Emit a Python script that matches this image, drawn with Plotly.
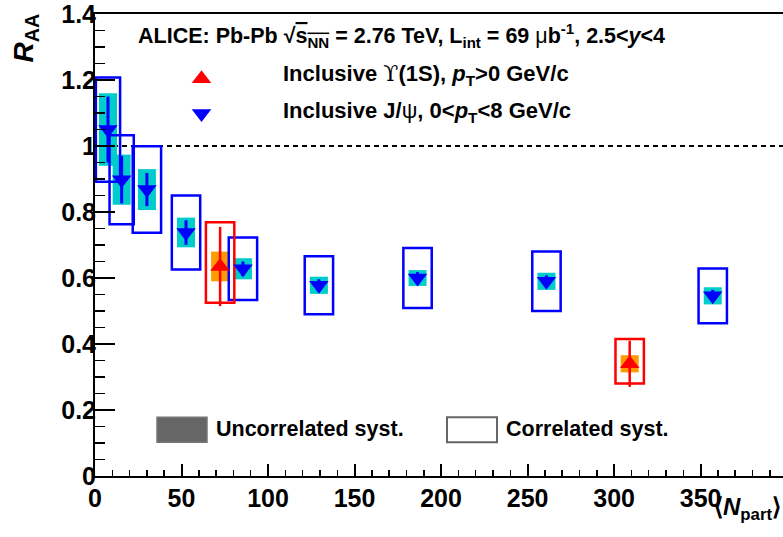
import plotly.graph_objects as go

# ---------------- data ----------------
jpsi_npart = [7.5, 15.4, 30.0, 52.6, 85.5, 129.4, 186.4, 260.9, 357.0]
jpsi_raa = [1.050, 0.898, 0.868, 0.738, 0.628, 0.578, 0.600, 0.590, 0.546]
jpsi_stat = [0.100, 0.072, 0.050, 0.037, 0.022, 0.018, 0.018, 0.018, 0.018]
jpsi_uncorr = [0.110, 0.076, 0.062, 0.045, 0.032, 0.026, 0.024, 0.026, 0.026]
jpsi_corr = [0.158, 0.135, 0.131, 0.112, 0.095, 0.088, 0.091, 0.090, 0.083]

ups_npart = [72.3, 309.0]
ups_raa = [0.635, 0.340]
ups_stat = [0.120, 0.070]
ups_uncorr = [0.045, 0.026]
ups_corr_up = [0.134, 0.075]
ups_corr_down = [0.110, 0.060]

x_ticks = [0, 50, 100, 150, 200, 250, 300, 350]
y_ticks = [0, 0.2, 0.4, 0.6, 0.8, 1.0, 1.2, 1.4]
REF_LINE = 1.0

# ---------------- style / layout constants ----------------
W, H = 783, 537
L, R, T, B = 95, 783, 12, 476
X_MAX = 397.6
Y_MAX = 1.4001
UNC_HALF = 5.2
jpsi_box_half = [7.0, 7.0, 8.2, 8.2, 8.2, 8.2, 8.2, 8.2, 8.2]
ups_box_half = [8.2, 8.2]
CYAN = "#00CCCC"
ORANGE = "#FF9A00"
BLUE = "#0000FF"
RED = "#FF0000"
FONT = "Liberation Sans, Arial, Helvetica, sans-serif"
MSIZE = 17


def pxx(xp):
    return (xp - L) / (R - L)


def pyy(yp):
    return (B - yp) / (B - T)


fig = go.Figure()
shapes = []

# uncorrelated (filled) boxes
for x, y, e in zip(jpsi_npart, jpsi_raa, jpsi_uncorr):
    shapes.append(dict(type="rect", xref="x", yref="y", x0=x - UNC_HALF, x1=x + UNC_HALF,
                       y0=y - e, y1=y + e, fillcolor=CYAN, line=dict(width=0), layer="below"))
for x, y, e in zip(ups_npart, ups_raa, ups_uncorr):
    shapes.append(dict(type="rect", xref="x", yref="y", x0=x - UNC_HALF, x1=x + UNC_HALF,
                       y0=y - e, y1=y + e, fillcolor=ORANGE, line=dict(width=0), layer="below"))

# reference line at 1
shapes.append(dict(type="line", xref="paper", yref="y", x0=0, x1=1, y0=REF_LINE, y1=REF_LINE,
                   line=dict(color="black", width=2, dash="5px,4px"), layer="below"))

# correlated (open) boxes
for x, y, e, hw in zip(jpsi_npart, jpsi_raa, jpsi_corr, jpsi_box_half):
    shapes.append(dict(type="rect", xref="x", yref="y", x0=x - hw, x1=x + hw,
                       y0=y - e, y1=y + e, line=dict(color=BLUE, width=2.5), layer="below"))
for x, y, eu, ed, hw in zip(ups_npart, ups_raa, ups_corr_up, ups_corr_down, ups_box_half):
    shapes.append(dict(type="rect", xref="x", yref="y", x0=x - hw, x1=x + hw,
                       y0=y - ed, y1=y + eu, line=dict(color=RED, width=2.5), layer="below"))

# bottom legend boxes
shapes.append(dict(type="rect", xref="paper", yref="paper", x0=pxx(157), x1=pxx(207),
                   y0=pyy(442), y1=pyy(417), fillcolor="#666666", line=dict(color="#777777", width=1.5)))
shapes.append(dict(type="rect", xref="paper", yref="paper", x0=pxx(447), x1=pxx(497),
                   y0=pyy(442), y1=pyy(417), fillcolor="white", line=dict(color="#666666", width=2)))

# data traces
fig.add_trace(go.Scatter(
    x=jpsi_npart, y=jpsi_raa, mode="markers",
    marker=dict(symbol="triangle-down", size=MSIZE, color=BLUE, line=dict(width=0)),
    error_y=dict(type="data", array=jpsi_stat, visible=True, color=BLUE, thickness=3, width=0),
    showlegend=False, hoverinfo="skip"))
fig.add_trace(go.Scatter(
    x=ups_npart, y=ups_raa, mode="markers",
    marker=dict(symbol="triangle-up", size=MSIZE, color=RED, line=dict(width=0)),
    error_y=dict(type="data", array=ups_stat, visible=True, color=RED, thickness=2.5, width=0),
    showlegend=False, hoverinfo="skip"))

# legend markers on a pixel-space overlay axis
fig.add_trace(go.Scatter(x=[201.5], y=[77], xaxis="x2", yaxis="y2", mode="markers",
                         marker=dict(symbol="triangle-up", size=MSIZE, color=RED), showlegend=False,
                         hoverinfo="skip"))
fig.add_trace(go.Scatter(x=[201.5], y=[112], xaxis="x2", yaxis="y2", mode="markers",
                         marker=dict(symbol="triangle-down", size=MSIZE, color=BLUE), showlegend=False,
                         hoverinfo="skip"))

tickfont = dict(family=FONT, size=25, color="black", weight="bold")
txtfont = dict(family=FONT, size=21.5, color="black", weight="bold")
legfont = dict(family=FONT, size=22, color="black", weight="bold")
UPS = "<span style='font-family:DejaVu Serif;font-weight:normal'>ϒ</span>"
PSI = "<span style='font-weight:normal'>ψ</span>"
MU = "<span style='font-weight:normal'>μ</span>"

annotations = [
    dict(x=pxx(136), y=pyy(34), xref="paper", yref="paper", xanchor="left", yanchor="middle",
         showarrow=False, font=txtfont,
         text="ALICE: Pb-Pb √<span style='text-decoration:overline'>s<sub>NN</sub></span> = 2.76 TeV, "
              "L<sub>int</sub> = 69 " + MU + "b<sup>-1</sup>, 2.5&lt;<i>y</i>&lt;4"),
    dict(x=pxx(281), y=pyy(73), xref="paper", yref="paper", xanchor="left", yanchor="middle",
         showarrow=False, font=legfont,
         text="Inclusive " + UPS + "(1S), <i>p</i><sub>T</sub>&gt;0 GeV/c"),
    dict(x=pxx(281), y=pyy(110), xref="paper", yref="paper", xanchor="left", yanchor="middle",
         showarrow=False, font=legfont,
         text="Inclusive J/" + PSI + ", 0&lt;<i>p</i><sub>T</sub>&lt;8 GeV/c"),
    dict(x=pxx(214), y=pyy(429), xref="paper", yref="paper", xanchor="left", yanchor="middle",
         showarrow=False, font=txtfont, text="Uncorrelated syst."),
    dict(x=pxx(504), y=pyy(429), xref="paper", yref="paper", xanchor="left", yanchor="middle",
         showarrow=False, font=txtfont, text="Correlated syst."),
    dict(x=pxx(26), y=pyy(10), xref="paper", yref="paper", xanchor="center", yanchor="top",
         textangle=-90, showarrow=False, font=dict(family=FONT, size=28, color="black", weight="bold"),
         text="<i>R</i><sub>AA</sub>"),
    dict(x=pxx(783), y=pyy(509), xref="paper", yref="paper", xanchor="right", yanchor="middle",
         showarrow=False, font=dict(family=FONT, size=24, color="black", weight="bold"),
         text="⟨<i>N</i><sub>part</sub>⟩"),
]

fig.update_layout(
    width=W, height=H,
    margin=dict(l=L, r=W - R, t=T, b=H - B, pad=0),
    paper_bgcolor="white", plot_bgcolor="white",
    showlegend=False, hovermode=False,
    shapes=shapes, annotations=annotations,
    xaxis=dict(range=[0, X_MAX], tickvals=x_ticks, ticks="inside", ticklen=12, tickwidth=2,
               tickcolor="black", showline=True, linewidth=2, linecolor="black", mirror=True,
               showgrid=False, zeroline=False, tickfont=tickfont, ticklabelstandoff=-1,
               ticklabeloverflow="allow",
               minor=dict(dtick=10, ticks="inside", ticklen=6, tickwidth=1.5, tickcolor="black",
                          showgrid=False)),
    yaxis=dict(range=[0, Y_MAX], tickvals=y_ticks, ticks="inside", ticklen=20, tickwidth=2,
               tickcolor="black", showline=True, linewidth=2, linecolor="black", mirror=False,
               showgrid=False, zeroline=False, tickfont=tickfont, ticklabelstandoff=-8,
               ticklabeloverflow="allow",
               minor=dict(dtick=0.05, ticks="inside", ticklen=10, tickwidth=1.5, tickcolor="black",
                          showgrid=False)),
    xaxis2=dict(range=[L, R], overlaying="x", anchor="y2", visible=False, domain=[0, 1]),
    yaxis2=dict(range=[B, T], overlaying="y", anchor="x2", visible=False, domain=[0, 1]),
)

fig.write_html("out.html", config={"displayModeBar": False, "staticPlot": True},
               post_script="document.body.style.margin='0';document.body.style.overflow='hidden';")
